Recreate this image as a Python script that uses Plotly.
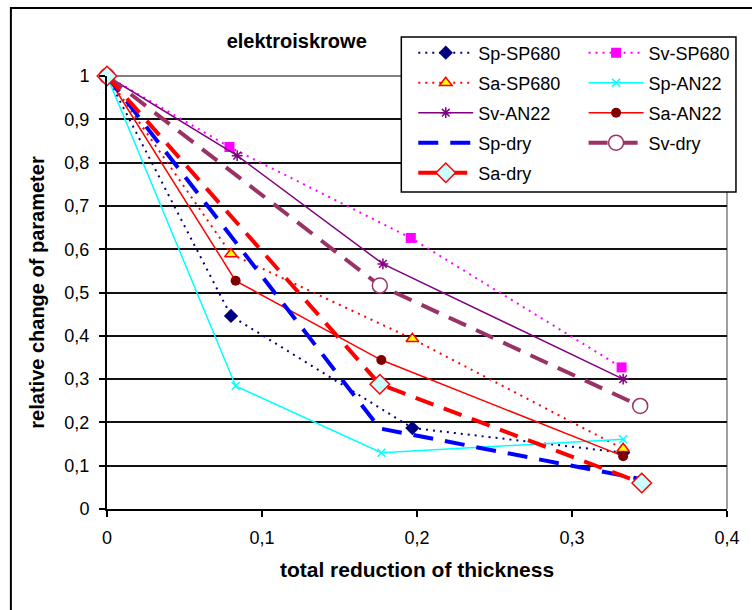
import plotly.graph_objects as go

# ---------------- data ----------------
x_sp_sp680 = [0, 0.080, 0.197, 0.333]
y_sp_sp680 = [1, 0.446, 0.187, 0.130]

x_sv_sp680 = [0, 0.079, 0.196, 0.332]
y_sv_sp680 = [1, 0.836, 0.626, 0.327]

x_sa_sp680 = [0, 0.080, 0.197, 0.333]
y_sa_sp680 = [1, 0.589, 0.393, 0.139]

x_sp_an22 = [0, 0.083, 0.177, 0.333]
y_sp_an22 = [1, 0.284, 0.130, 0.161]

x_sv_an22 = [0, 0.084, 0.178, 0.333]
y_sv_an22 = [1, 0.816, 0.566, 0.300]

x_sa_an22 = [0, 0.083, 0.177, 0.333]
y_sa_an22 = [1, 0.527, 0.344, 0.122]

x_sp_dry = [0, 0.176, 0.346]
y_sp_dry = [1, 0.186, 0.068]

x_sv_dry = [0, 0.176, 0.344]
y_sv_dry = [1, 0.516, 0.238]

x_sa_dry = [0, 0.176, 0.345]
y_sa_dry = [1, 0.288, 0.060]

x_tickvals = [0, 0.1, 0.2, 0.3, 0.4]
x_ticktext = ["0", "0,1", "0,2", "0,3", "0,4"]
y_tickvals = [0, 0.1, 0.2, 0.3, 0.4, 0.5, 0.6, 0.7, 0.8, 0.9, 1]
y_ticktext = ["0", "0,1", "0,2", "0,3", "0,4", "0,5", "0,6", "0,7", "0,8", "0,9", "1"]

title_text = "elektroiskrowe"
x_title = "total reduction of thickness"
y_title = "relative change of parameter"

FONT = "Liberation Sans, Arial, sans-serif"

fig = go.Figure()

def add(name, x, y, line, marker, legend, mode="lines+markers"):
    fig.add_trace(go.Scatter(
        x=x, y=y, name=name, mode=mode, line=line, marker=marker,
        legend=legend, legendgroup=name, cliponaxis=False, showlegend=True))

add("Sp-SP680", x_sp_sp680, y_sp_sp680,
    dict(color="#000080", width=2, dash="2px,5px"),
    dict(symbol="diamond", size=11, color="#000080"), "legend")
add("Sv-SP680", x_sv_sp680, y_sv_sp680,
    dict(color="#FF00FF", width=2, dash="2px,5px"),
    dict(symbol="square", size=10, color="#FF00FF"), "legend2")
add("Sa-SP680", x_sa_sp680, y_sa_sp680,
    dict(color="#FF0000", width=2, dash="2px,5px"),
    dict(symbol="triangle-up", size=11, color="#FFFF00", line=dict(color="#FF0000", width=1.5)), "legend")
add("Sp-AN22", x_sp_an22, y_sp_an22,
    dict(color="#00FFFF", width=1.5),
    dict(symbol="x-thin", size=8, line=dict(color="#00FFFF", width=1.5)), "legend2")
add("Sv-AN22", x_sv_an22, y_sv_an22,
    dict(color="#800080", width=1.5),
    dict(symbol="asterisk", size=9, line=dict(color="#800080", width=1.5)), "legend")
add("Sa-AN22", x_sa_an22, y_sa_an22,
    dict(color="#FF0000", width=1.5),
    dict(symbol="circle", size=10, color="#800000"), "legend2")
add("Sp-dry", x_sp_dry, y_sp_dry,
    dict(color="#0000FF", width=4, dash="20px,12px"),
    dict(size=1), "legend", mode="lines")
add("Sv-dry", x_sv_dry, y_sv_dry,
    dict(color="#993366", width=4, dash="19px,11px"),
    dict(symbol="circle", size=15, color="white", line=dict(color="#993366", width=1.5)), "legend2")
add("Sa-dry", x_sa_dry, y_sa_dry,
    dict(color="#FF0000", width=4, dash="19px,11px"),
    dict(symbol="diamond", size=15, color="#CCFFFF", line=dict(color="#FF0000", width=1.5)), "legend")

W, H = 752, 610
L, R, T, B = 106.5, 23, 76, 101
pw, ph = W - L - R, H - T - B

def px2x(p):
    return (p - L) / pw

def py2y(p):
    return (H - B - p) / ph

legend_common = dict(
    bgcolor="rgba(0,0,0,0)", borderwidth=0, font=dict(family=FONT, size=18, color="black"),
    xanchor="left", yanchor="top", itemwidth=55, tracegroupgap=3.6, traceorder="grouped",
)

fig.update_layout(
    width=W, height=H,
    margin=dict(l=L, r=R, t=T, b=B),
    paper_bgcolor="white", plot_bgcolor="white",
    font=dict(family=FONT, size=18, color="black"),
    title=dict(text="<b>" + title_text + "</b>", x=px2x(297), xref="paper", xanchor="center",
               y=1 - 41 / H, yanchor="middle", font=dict(family=FONT, size=20, color="black")),
    xaxis=dict(range=[0, 0.4], tickvals=x_tickvals, ticktext=x_ticktext, showgrid=False,
               zeroline=False, showline=True, linecolor="black", linewidth=2,
               ticks="outside", ticklen=6, tickcolor="black", tickwidth=1.5,
               ticklabelstandoff=5,
               tickfont=dict(family=FONT, size=18, color="black"),
               title=dict(text="<b>" + x_title + "</b>", font=dict(family=FONT, size=21, color="black"), standoff=16)),
    yaxis=dict(range=[0, 1], tickvals=y_tickvals, ticktext=y_ticktext, showgrid=True,
               gridcolor="#111111", gridwidth=2, zeroline=False, showline=True,
               linecolor="black", linewidth=2, ticks="outside", ticklen=6, tickcolor="black",
               tickwidth=1.5, ticklabelstandoff=6, tickfont=dict(family=FONT, size=18, color="black"),
               title=dict(text="<b>" + y_title + "</b>", font=dict(family=FONT, size=20, color="black"), standoff=14)),
    legend=dict(x=px2x(414), y=py2y(34.5), **legend_common),
    legend2=dict(x=px2x(585), y=py2y(34.5), **legend_common),
    showlegend=True,
)

shapes = [
    # outer chart border
    dict(type="rect", xref="paper", yref="paper", x0=px2x(10), x1=px2x(770), y0=py2y(640), y1=py2y(8),
         line=dict(color="black", width=2), fillcolor="rgba(0,0,0,0)", layer="below"),
    # plot area top/right border (gray)
    dict(type="line", xref="paper", yref="paper", x0=0, x1=1, y0=1, y1=1,
         line=dict(color="#808080", width=2), layer="between"),
    dict(type="line", xref="paper", yref="paper", x0=1, x1=1, y0=0, y1=1,
         line=dict(color="#808080", width=1.5), layer="between"),
    # legend box
    dict(type="rect", xref="paper", yref="paper", x0=px2x(402), x1=px2x(738), y0=py2y(192), y1=py2y(37),
         line=dict(color="black", width=1.5), fillcolor="white", layer="above"),
]
fig.update_layout(shapes=shapes)

fig.write_html("out.html")
